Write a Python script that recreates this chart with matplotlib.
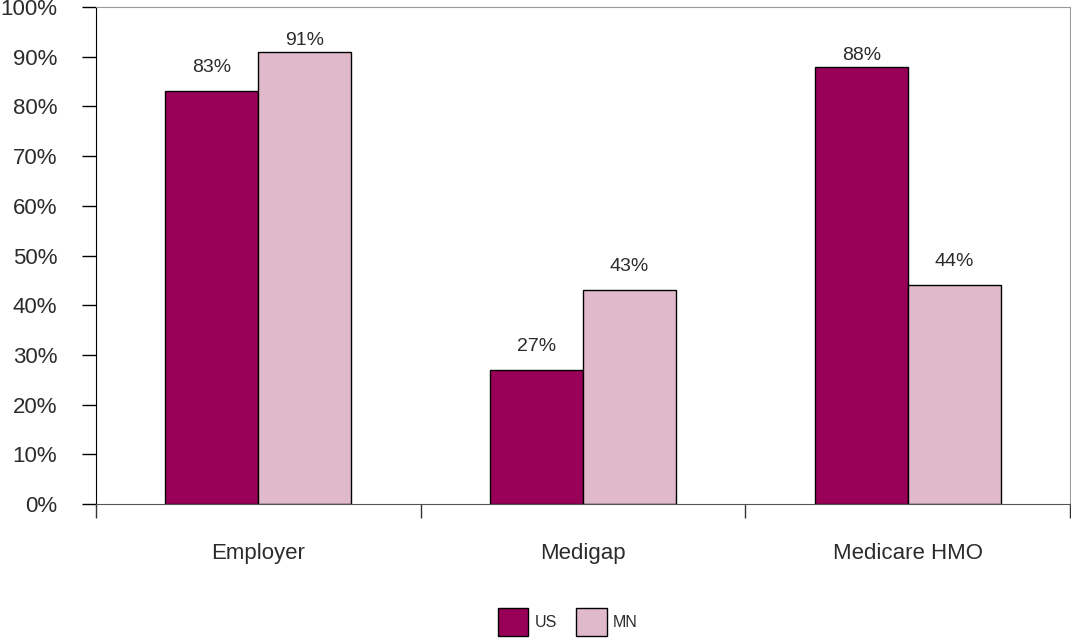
import matplotlib.pyplot as plt
import numpy as np

plt.rcParams['font.family'] = ['Liberation Sans', 'DejaVu Sans']

categories = ['Employer', 'Medigap', 'Medicare HMO']
us_values = [83, 27, 88]
mn_values = [91, 43, 44]
series_names = ['US', 'MN']
y_ticks = [0, 10, 20, 30, 40, 50, 60, 70, 80, 90, 100]

us_color = '#990057'
mn_color = '#e0bacb'
text_color = '#2b2b2b'

fig = plt.figure(figsize=(10.71, 6.38), dpi=100)
ax = fig.add_axes([96 / 1071, 1 - 504 / 638, 974 / 1071, 497 / 638])

x = np.arange(len(categories))
w = 0.286
bars_us = ax.bar(x - w / 2, us_values, w, color=us_color, edgecolor='black',
                 linewidth=1, label=series_names[0])
bars_mn = ax.bar(x + w / 2, mn_values, w, color=mn_color, edgecolor='black',
                 linewidth=1, label=series_names[1])

# value labels above each bar (pulled in a bit near the top of the axis)
for bars, vals in ((bars_us, us_values), (bars_mn, mn_values)):
    for b, v in zip(bars, vals):
        off = 17 if v < 85 else 8
        ax.annotate(f'{v}%', (b.get_x() + b.get_width() / 2, v),
                    xytext=(0, off), textcoords='offset points',
                    ha='center', va='center', fontsize=14, color=text_color)

ax.set_xlim(-0.5, len(categories) - 0.5)
ax.set_ylim(0, 100)
ax.set_yticks(y_ticks)
ax.set_yticklabels([f'{t}%' for t in y_ticks])
ax.tick_params(axis='y', direction='out', length=10, width=1, color='black',
               labelsize=16, labelcolor=text_color, pad=18)

# category labels centred, tick marks between groups
ax.set_xticks(x)
ax.set_xticklabels(categories)
ax.tick_params(axis='x', which='major', length=0, labelsize=16,
               labelcolor=text_color, pad=28)
ax.set_xticks(np.arange(-0.5, len(categories)), minor=True)
ax.tick_params(axis='x', which='minor', direction='out', length=10, width=1,
               color='#333333')

ax.spines['left'].set_color('black')
ax.spines['bottom'].set_color('#555555')
ax.spines['top'].set_color('#999999')
ax.spines['right'].set_color('#999999')

ax.legend(loc='center', bbox_to_anchor=(568 / 1071, 1 - 622 / 638),
          bbox_transform=fig.transFigure, ncol=2, frameon=False,
          fontsize=11.5, handlelength=1.9, handleheight=2.3, handletextpad=0.4,
          columnspacing=1.2, labelcolor=text_color)

fig.savefig('out.png', dpi=100)
